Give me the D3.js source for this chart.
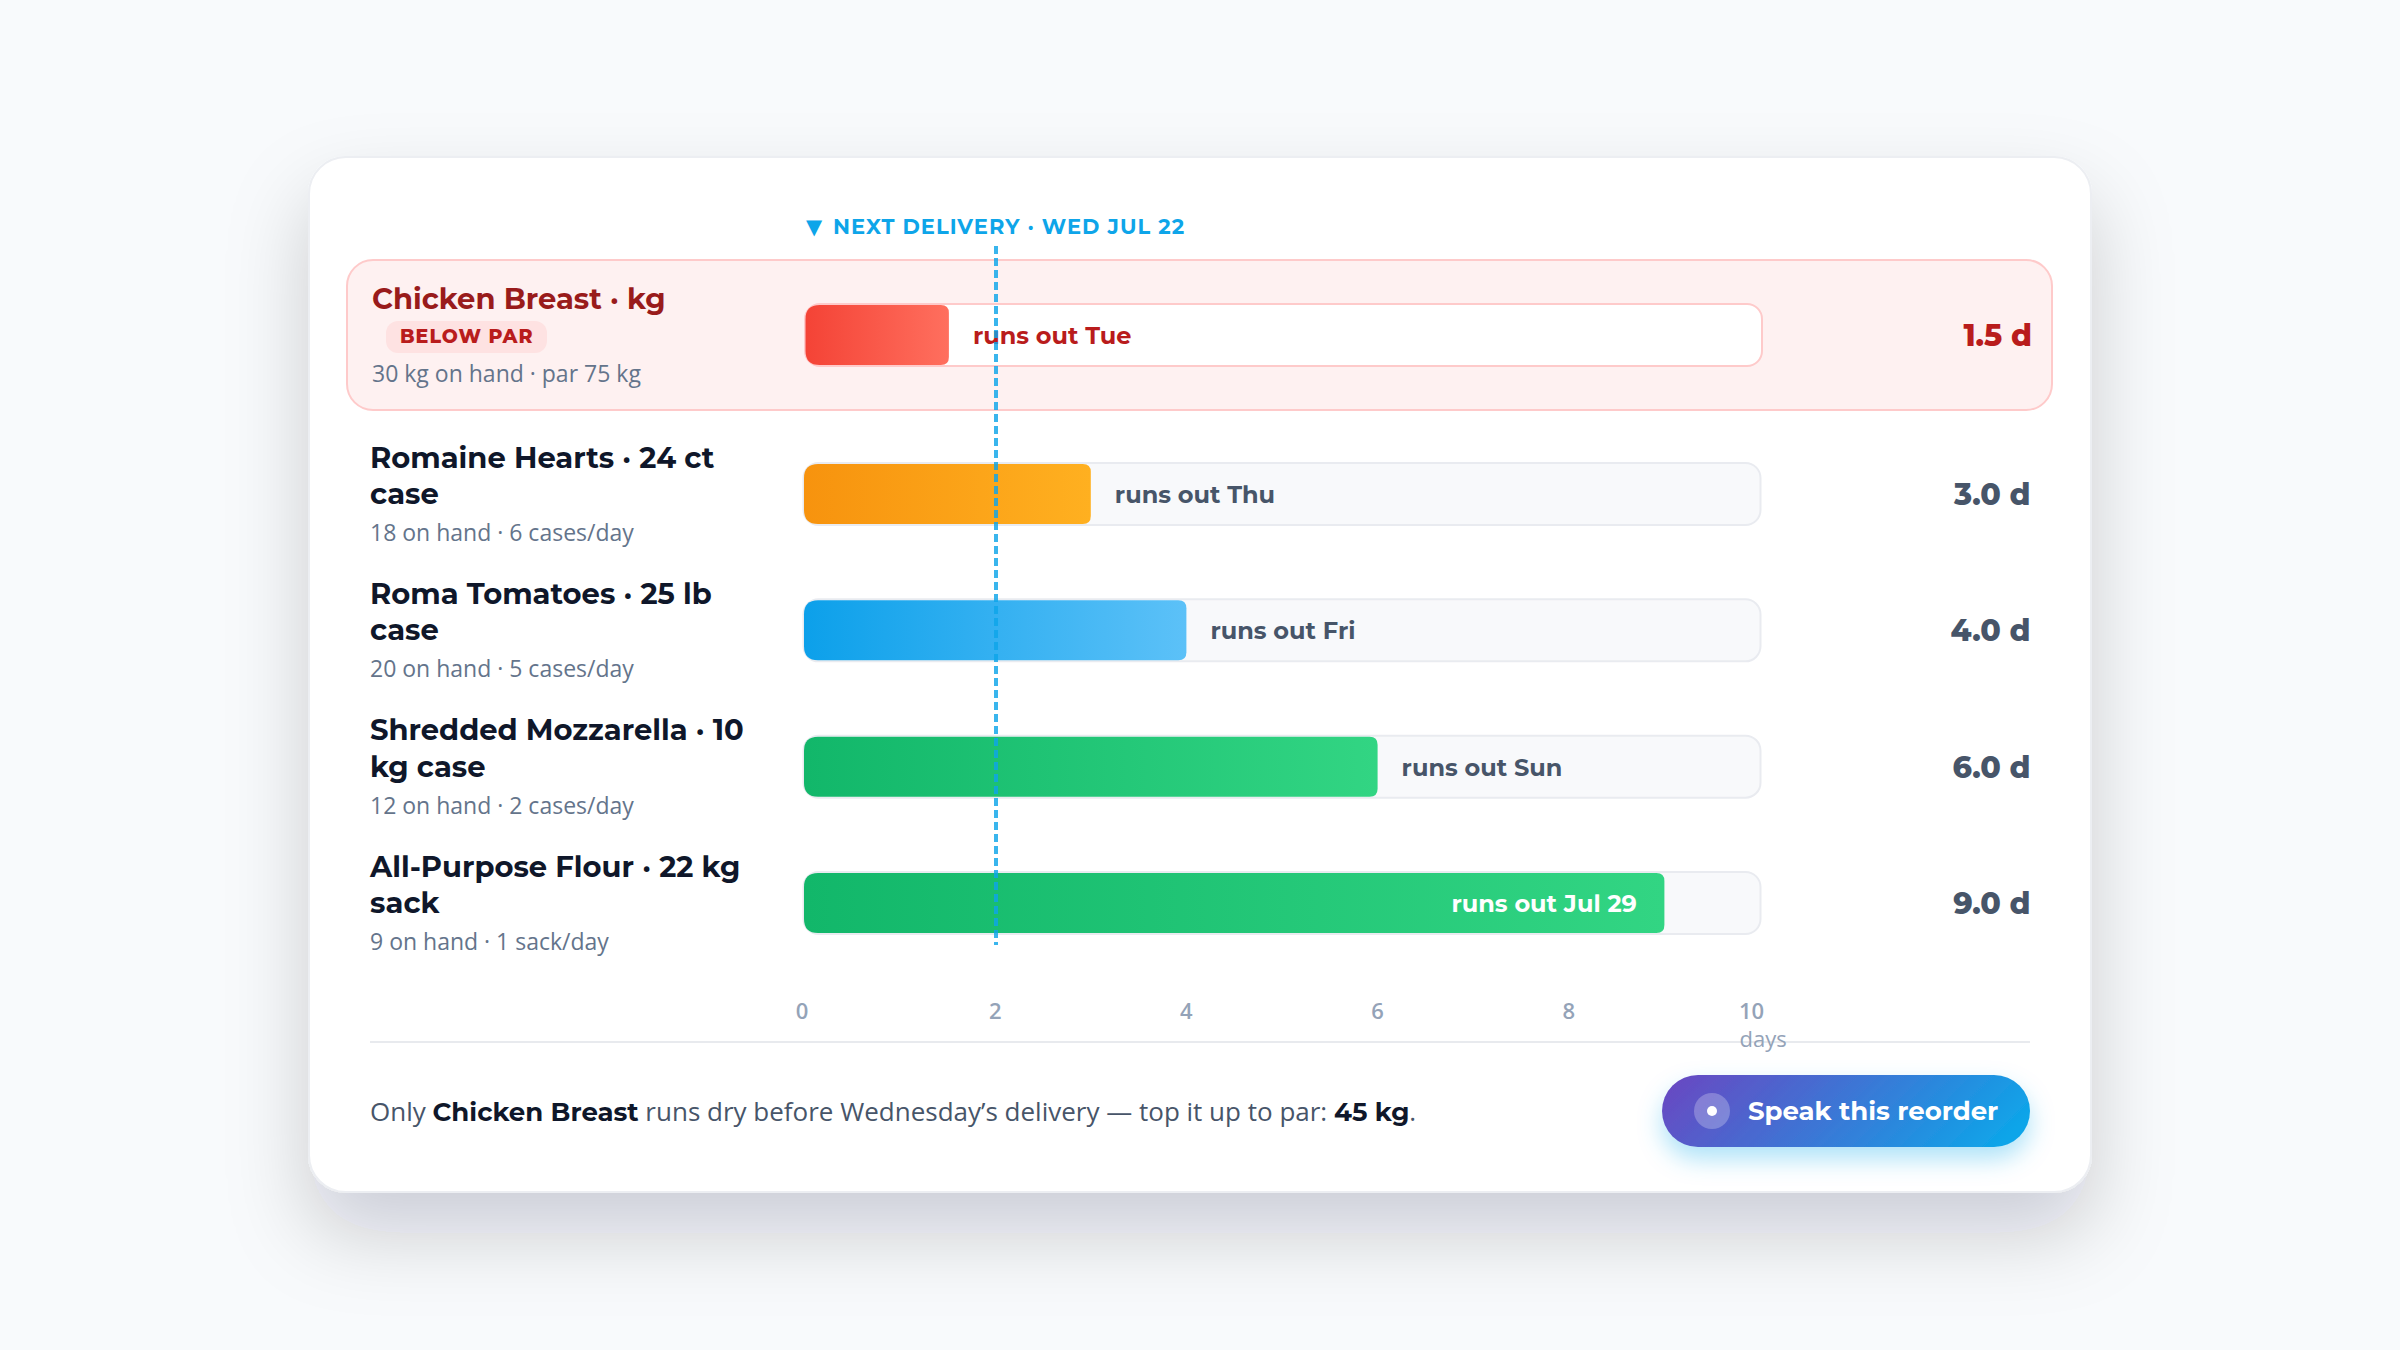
<!DOCTYPE html>
<html>
<head>
<meta charset="utf-8">
<script src="https://cdn.jsdelivr.net/npm/d3@7"></script>
<style>
  html, body { margin: 0; padding: 0; background: #f8fafc; }
  svg { display: block; }
  .head { font-family: Montserrat, Inter, sans-serif; }
  .body { font-family: "Open Sans", "Noto Sans", sans-serif; }
</style>
</head>
<body>
<div id="chart"></div>
<script>
var titleLines = [
  ["Chicken Breast · kg"],
  ["Romaine Hearts · 24 ct", "case"],
  ["Roma Tomatoes · 25 lb", "case"],
  ["Shredded Mozzarella · 10", "kg case"],
  ["All-Purpose Flour · 22 kg", "sack"]
]
var subLabels = [
  "30 kg on hand · par 75 kg",
  "18 on hand · 6 cases/day",
  "20 on hand · 5 cases/day",
  "12 on hand · 2 cases/day",
  "9 on hand · 1 sack/day"
]
var daysLeft = [1.5, 3, 4, 6, 9]
var runsOut = ["runs out Tue", "runs out Thu", "runs out Fri", "runs out Sun", "runs out Jul 29"]
var valueLabels = ["1.5 d", "3.0 d", "4.0 d", "6.0 d", "9.0 d"]
var gradFrom = ["#f44336", "#f7930e", "#0ca0ea", "#12b76a", "#12b76a"]
var gradTo = ["#ff6f5e", "#ffb020", "#5cc1f8", "#32d583", "#32d583"]
var axisTicks = [0, 2, 4, 6, 8, 10]
var deliveryDay = 2

var width = 2400, height = 1350
var svg = d3.select("#chart").append("svg").attr("width", width).attr("height", height)
var defs = svg.append("defs")

var cardShadow = defs.append("filter").attr("id", "cardShadow")
  .attr("x", "-15%").attr("y", "-20%").attr("width", "130%").attr("height", "150%")
cardShadow.append("feDropShadow").attr("dx", 0).attr("dy", 40).attr("stdDeviation", 40)
  .attr("flood-color", "#0f172a").attr("flood-opacity", 0.18)
var btnShadow = defs.append("filter").attr("id", "btnShadow")
  .attr("x", "-20%").attr("y", "-50%").attr("width", "140%").attr("height", "220%")
btnShadow.append("feDropShadow").attr("dx", 0).attr("dy", 12).attr("stdDeviation", 12)
  .attr("flood-color", "#0ea5e9").attr("flood-opacity", 0.32)

daysLeft.forEach(function(d, i) {
  var g = defs.append("linearGradient").attr("id", "bar" + i)
  g.append("stop").attr("offset", 0).attr("stop-color", gradFrom[i])
  g.append("stop").attr("offset", 1).attr("stop-color", gradTo[i])
})
// about the line a css 135deg gradient takes over the button box
var btnGrad = defs.append("linearGradient").attr("id", "btnGrad")
  .attr("gradientUnits", "userSpaceOnUse")
  .attr("x1", 1736).attr("y1", 1001).attr("x2", 1940).attr("y2", 1205)
btnGrad.append("stop").attr("offset", 0).attr("stop-color", "#6b46c1")
btnGrad.append("stop").attr("offset", 1).attr("stop-color", "#0ea5e9")

// card, the ring sits just outside the white
svg.append("rect").attr("x", 309).attr("y", 157).attr("width", 1782).attr("height", 1035)
  .attr("rx", 37).attr("fill", "#fff").attr("stroke", "#eceef2").attr("stroke-width", 2)
  .attr("filter", "url(#cardShadow)")

var x = d3.scaleLinear().domain([0, 10]).range([804, 1760])
var rowsBelow = d3.scalePoint().domain([1, 2, 3, 4]).range([494, 903])
function rowY(i) { return i == 0 ? 335 : rowsBelow(i) }
// the alert row has a border, everything in it sits a bit further right
function shift(i) { return i == 0 ? 1.5 : 0 }
var barH = 60

// alert row behind first item
svg.append("rect").attr("x", 347).attr("y", 260).attr("width", 1705).attr("height", 150)
  .attr("rx", 26).attr("fill", "#fef1f1").attr("stroke", "#fecaca").attr("stroke-width", 2)

function fillPath(x0, x1, y0, y1, rl, rr) {
  var p = d3.path()
  p.moveTo(x0 + rl, y0)
  p.lineTo(x1 - rr, y0)
  p.quadraticCurveTo(x1, y0, x1, y0 + rr)
  p.lineTo(x1, y1 - rr)
  p.quadraticCurveTo(x1, y1, x1 - rr, y1)
  p.lineTo(x0 + rl, y1)
  p.quadraticCurveTo(x0, y1, x0, y1 - rl)
  p.lineTo(x0, y0 + rl)
  p.quadraticCurveTo(x0, y0, x0 + rl, y0)
  p.closePath()
  return p.toString()
}

var rows = svg.selectAll("g.row").data(daysLeft).join("g").attr("class", "row")

rows.append("rect")
  .attr("x", function(d, i) { return x(0) + shift(i) - 0.5 })
  .attr("y", function(d, i) { return rowY(i) - barH / 2 - 1 })
  .attr("width", x(10) - x(0) + 1)
  .attr("height", barH + 2)
  .attr("rx", 15)
  .attr("fill", function(d, i) { return i == 0 ? "#fff" : "#f8f9fb" })
  .attr("stroke", function(d, i) { return i == 0 ? "#fecaca" : "#e9ebf0" })
  .attr("stroke-width", 2)

rows.append("path")
  .attr("d", function(d, i) {
    return fillPath(x(0) + shift(i), x(d) + shift(i), rowY(i) - barH / 2, rowY(i) + barH / 2, 14, 8)
  })
  .attr("fill", function(d, i) { return "url(#bar" + i + ")" })

// item names, wrapped as in the source
rows.each(function(d, i) {
  var g = d3.select(this)
  var base = i == 0 ? 309 : rowY(i) - 26.5
  var left = i == 0 ? 372 : 370
  titleLines[i].forEach(function(line, k) {
    g.append("text").attr("class", "head")
      .attr("x", left).attr("y", base + k * 36.5)
      .attr("font-size", 29).attr("font-weight", 700)
      .attr("fill", i == 0 ? "#991b1b" : "#0f172a")
      .text(line)
  })
  g.append("text").attr("class", "body")
    .attr("x", left).attr("y", i == 0 ? 382 : rowY(i) + 47)
    .attr("font-size", 23).attr("fill", "#64748b")
    .text(subLabels[i])
  var inside = x(d) > 1500
  g.append("text").attr("class", "head")
    .attr("x", inside ? x(d) - 27.5 : x(d) + 24 + shift(i))
    .attr("y", rowY(i) + 9)
    .attr("text-anchor", inside ? "end" : "start")
    .attr("font-size", 24).attr("font-weight", 700)
    .attr("fill", inside ? "#fff" : i == 0 ? "#b91c1c" : "#475569")
    .text(runsOut[i])
  g.append("text").attr("class", "head")
    .attr("x", 2030.5 + shift(i)).attr("y", rowY(i) + 11)
    .attr("text-anchor", "end")
    .attr("font-size", 30).attr("font-weight", 800)
    .attr("fill", i == 0 ? "#b91c1c" : "#475569")
    .text(valueLabels[i])
})

// below par badge
svg.append("rect").attr("x", 386).attr("y", 321).attr("width", 161).attr("height", 32)
  .attr("rx", 12).attr("fill", "#fee2e2")
svg.append("text").attr("class", "head").attr("x", 400).attr("y", 343)
  .attr("font-size", 19).attr("font-weight", 800).attr("letter-spacing", 1)
  .attr("fill", "#b91c1c").text("BELOW PAR")

// delivery marker
svg.append("text").attr("x", 806).attr("y", 234)
  .attr("font-family", "'DejaVu Sans', sans-serif").attr("font-size", 21)
  .attr("fill", "#0ea5e9").text("▼")
svg.append("text").attr("class", "head").attr("x", 833).attr("y", 234)
  .attr("font-size", 21).attr("font-weight", 700).attr("letter-spacing", 1.05)
  .attr("fill", "#0ea5e9").text("NEXT DELIVERY · WED JUL 22")
svg.append("line")
  .attr("x1", Math.round(x(deliveryDay)) + 1).attr("x2", Math.round(x(deliveryDay)) + 1)
  .attr("y1", 246).attr("y2", 945)
  .attr("stroke", "#0ea5e9").attr("stroke-opacity", 0.82).attr("stroke-width", 4)
  .attr("stroke-dasharray", "8 4")

// footer rule goes under the axis text, "days" runs over it
svg.append("line").attr("x1", 370).attr("x2", 2030).attr("y1", 1042).attr("y2", 1042)
  .attr("stroke", "#e8eaee").attr("stroke-width", 2)

// axis
var axis = d3.axisBottom(x).tickValues(axisTicks).tickSize(0).tickPadding(0)
var axisG = svg.append("g").attr("transform", "translate(0,1003)").call(axis)
axisG.select(".domain").remove()
axisG.selectAll("text")
  .attr("font-family", "'Open Sans', sans-serif")
  .attr("font-size", 22).attr("font-weight", 600)
  .attr("fill", "#94a3b8")
  .attr("dx", function(d) { return d == 0 ? -2.5 : d == 10 ? -9 : -0.5 })
svg.append("text").attr("class", "body").attr("x", x(10) - 20.5).attr("y", 1047)
  .attr("font-size", 22).attr("font-weight", 500).attr("fill", "#94a3b8").text("days")

var note = svg.append("text").attr("class", "body").attr("x", 370).attr("y", 1121)
  .attr("font-size", 26).attr("fill", "#475569")
note.append("tspan").text("Only ")
note.append("tspan").attr("class", "head").attr("font-size", 26).attr("font-weight", 700).attr("fill", "#0f172a").text("Chicken Breast")
note.append("tspan").text(" runs dry before Wednesday’s delivery — top it up to par: ")
note.append("tspan").attr("class", "head").attr("font-size", 26).attr("font-weight", 700).attr("fill", "#0f172a").text("45 kg")
note.append("tspan").text(".")

// button
svg.append("rect").attr("x", 1662).attr("y", 1075).attr("width", 368).attr("height", 72)
  .attr("rx", 36).attr("fill", "url(#btnGrad)").attr("filter", "url(#btnShadow)")
svg.append("circle").attr("cx", 1712).attr("cy", 1111).attr("r", 18).attr("fill", "#fff").attr("fill-opacity", 0.25)
svg.append("circle").attr("cx", 1712).attr("cy", 1111).attr("r", 5).attr("fill", "#fff")
svg.append("text").attr("class", "head").attr("x", 1748).attr("y", 1120)
  .attr("font-size", 26).attr("font-weight", 700).attr("fill", "#fff").text("Speak this reorder")
</script>
</body>
</html>
